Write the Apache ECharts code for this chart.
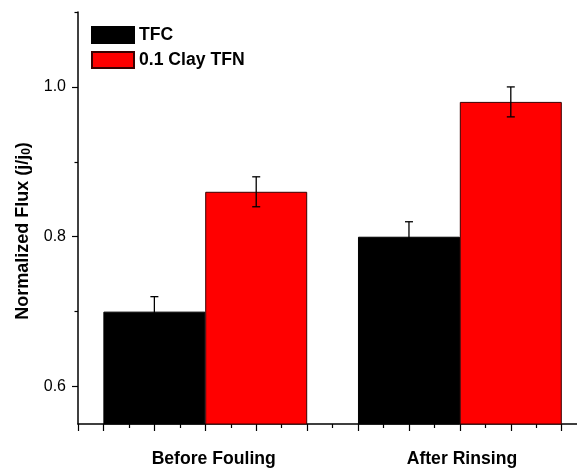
<!DOCTYPE html>
<html>
<head>
<meta charset="utf-8">
<script src="https://cdn.jsdelivr.net/npm/echarts@6/dist/echarts.min.js"></script>
<style>
  html, body { margin: 0; padding: 0; background: #fff; }
  #chart { width: 577px; height: 468px; }
</style>
</head>
<body>
<div id="chart"></div>
<script>
// ---- data ----
const groups = ['Before Fouling', 'After Rinsing'];
const seriesNames = ['TFC', '0.1 Clay TFN'];
const tfcValues = [0.70, 0.80];
const tfcErrors = [0.02, 0.02];
const tfnValues = [0.86, 0.98];
const tfnErrors = [0.02, 0.02];
const yMajorTicks = [0.6, 0.8, 1.0];
const yMinorTicks = [0.7, 0.9, 1.1];

// ---- layout (x in "slot" units along a numeric axis) ----
const groupCenters = [5, 15];
const barHalf = 2;           // each bar spans 4 slot units
const labelShift = [0.33, 0.08];
const xMax = 19.6;
const xMajor = [0, 1, 3, 5, 7, 9, 11, 13, 15, 17, 19];
const xMinor = [2, 4, 6, 8, 10, 12, 14, 16, 18];

const FONT = "'Liberation Sans', Arial, sans-serif";

const tfcData = tfcValues.map((v, i) => [groupCenters[i] - barHalf, v]);
const tfnData = tfnValues.map((v, i) => [groupCenters[i] + barHalf, v]);
const errData = [];
tfcValues.forEach((v, i) => errData.push([groupCenters[i] - barHalf, v, tfcErrors[i]]));
tfnValues.forEach((v, i) => errData.push([groupCenters[i] + barHalf, v, tfnErrors[i]]));
const labelPos = groupCenters.map((c, i) => c + labelShift[i]);

const chart = echarts.init(document.getElementById('chart'), null, { renderer: 'canvas' });

const option = {
  animation: false,
  backgroundColor: '#fff',
  textStyle: { fontFamily: FONT },
  grid: { left: 78, right: 0, top: 12, bottom: 44 },
  legend: {
    data: seriesNames,
    orient: 'vertical',
    left: 86,
    top: 21,
    itemWidth: 42,
    itemHeight: 16,
    itemGap: 7,
    icon: 'rect',
    textStyle: { fontFamily: FONT, fontWeight: 'bold', fontSize: 17.6, color: '#000' }
  },
  xAxis: [
    {
      type: 'value', min: 0, max: xMax,
      axisLine: { show: true, lineStyle: { color: '#000', width: 1.5 } },
      axisTick: { show: true, customValues: xMajor, length: 7, lineStyle: { color: '#000', width: 1.2 } },
      axisLabel: {
        show: true, customValues: labelPos,
        formatter: function (v) {
          let best = 0;
          labelPos.forEach((p, i) => { if (Math.abs(p - v) < Math.abs(labelPos[best] - v)) best = i; });
          return groups[best];
        },
        margin: 26, fontFamily: FONT, fontWeight: 'bold', fontSize: 17.6, color: '#000'
      },
      splitLine: { show: false }
    },
    {
      type: 'value', min: 0, max: xMax, position: 'bottom',
      axisLine: { show: false },
      axisTick: { show: true, customValues: xMinor, length: 4, lineStyle: { color: '#000', width: 1.2 } },
      axisLabel: { show: false },
      splitLine: { show: false }
    }
  ],
  yAxis: [
    {
      type: 'value', min: 0.55, max: 1.1, position: 'left',
      name: '{a|Normalized Flux (j/j}{s|0}{a|)}',
      nameLocation: 'middle',
      nameGap: 44,
      nameTextStyle: {
        padding: [0, 26, 0, 0],
        rich: {
          a: { fontFamily: FONT, fontWeight: 'bold', fontSize: 18, color: '#000' },
          s: { fontFamily: FONT, fontWeight: 'bold', fontSize: 12, color: '#000', verticalAlign: 'bottom', padding: [7, 0, 0, 0] }
        }
      },
      axisLine: { show: true, lineStyle: { color: '#000', width: 1.5 } },
      axisTick: { show: true, customValues: yMajorTicks, length: 6, lineStyle: { color: '#000', width: 1.2 } },
      axisLabel: {
        show: true, customValues: yMajorTicks,
        formatter: v => v.toFixed(1),
        margin: 12, fontFamily: FONT, fontSize: 16, color: '#000'
      },
      splitLine: { show: false }
    },
    {
      type: 'value', min: 0.55, max: 1.1, position: 'left',
      axisLine: { show: false },
      axisTick: { show: true, customValues: yMinorTicks, length: 3.5, lineStyle: { color: '#000', width: 1.2 } },
      axisLabel: { show: false },
      splitLine: { show: false }
    }
  ],
  series: [
    {
      name: seriesNames[0], type: 'bar', xAxisIndex: 0, yAxisIndex: 0,
      data: tfcData, barWidth: 102, barGap: '-100%',
      itemStyle: { color: '#000', borderColor: '#000', borderWidth: 1 }
    },
    {
      name: seriesNames[1], type: 'bar', xAxisIndex: 0, yAxisIndex: 0,
      data: tfnData, barWidth: 102, barGap: '-100%',
      itemStyle: { color: '#ff0000', borderColor: '#3a0000', borderWidth: 1 }
    },
    {
      name: 'errors', type: 'custom', xAxisIndex: 0, yAxisIndex: 0, z: 10,
      data: errData,
      renderItem: function (params, api) {
        const x = api.value(0), v = api.value(1), e = api.value(2);
        const top = api.coord([x, v + e]);
        const bot = api.coord([x, v - e]);
        const cap = 4;
        const style = { stroke: '#000', lineWidth: 1.3 };
        return {
          type: 'group',
          children: [
            { type: 'line', shape: { x1: top[0], y1: top[1], x2: bot[0], y2: bot[1] }, style: style },
            { type: 'line', shape: { x1: top[0] - cap, y1: top[1], x2: top[0] + cap, y2: top[1] }, style: style },
            { type: 'line', shape: { x1: bot[0] - cap, y1: bot[1], x2: bot[0] + cap, y2: bot[1] }, style: style }
          ]
        };
      }
    }
  ]
};
chart.setOption(option);
</script>
</body>
</html>
